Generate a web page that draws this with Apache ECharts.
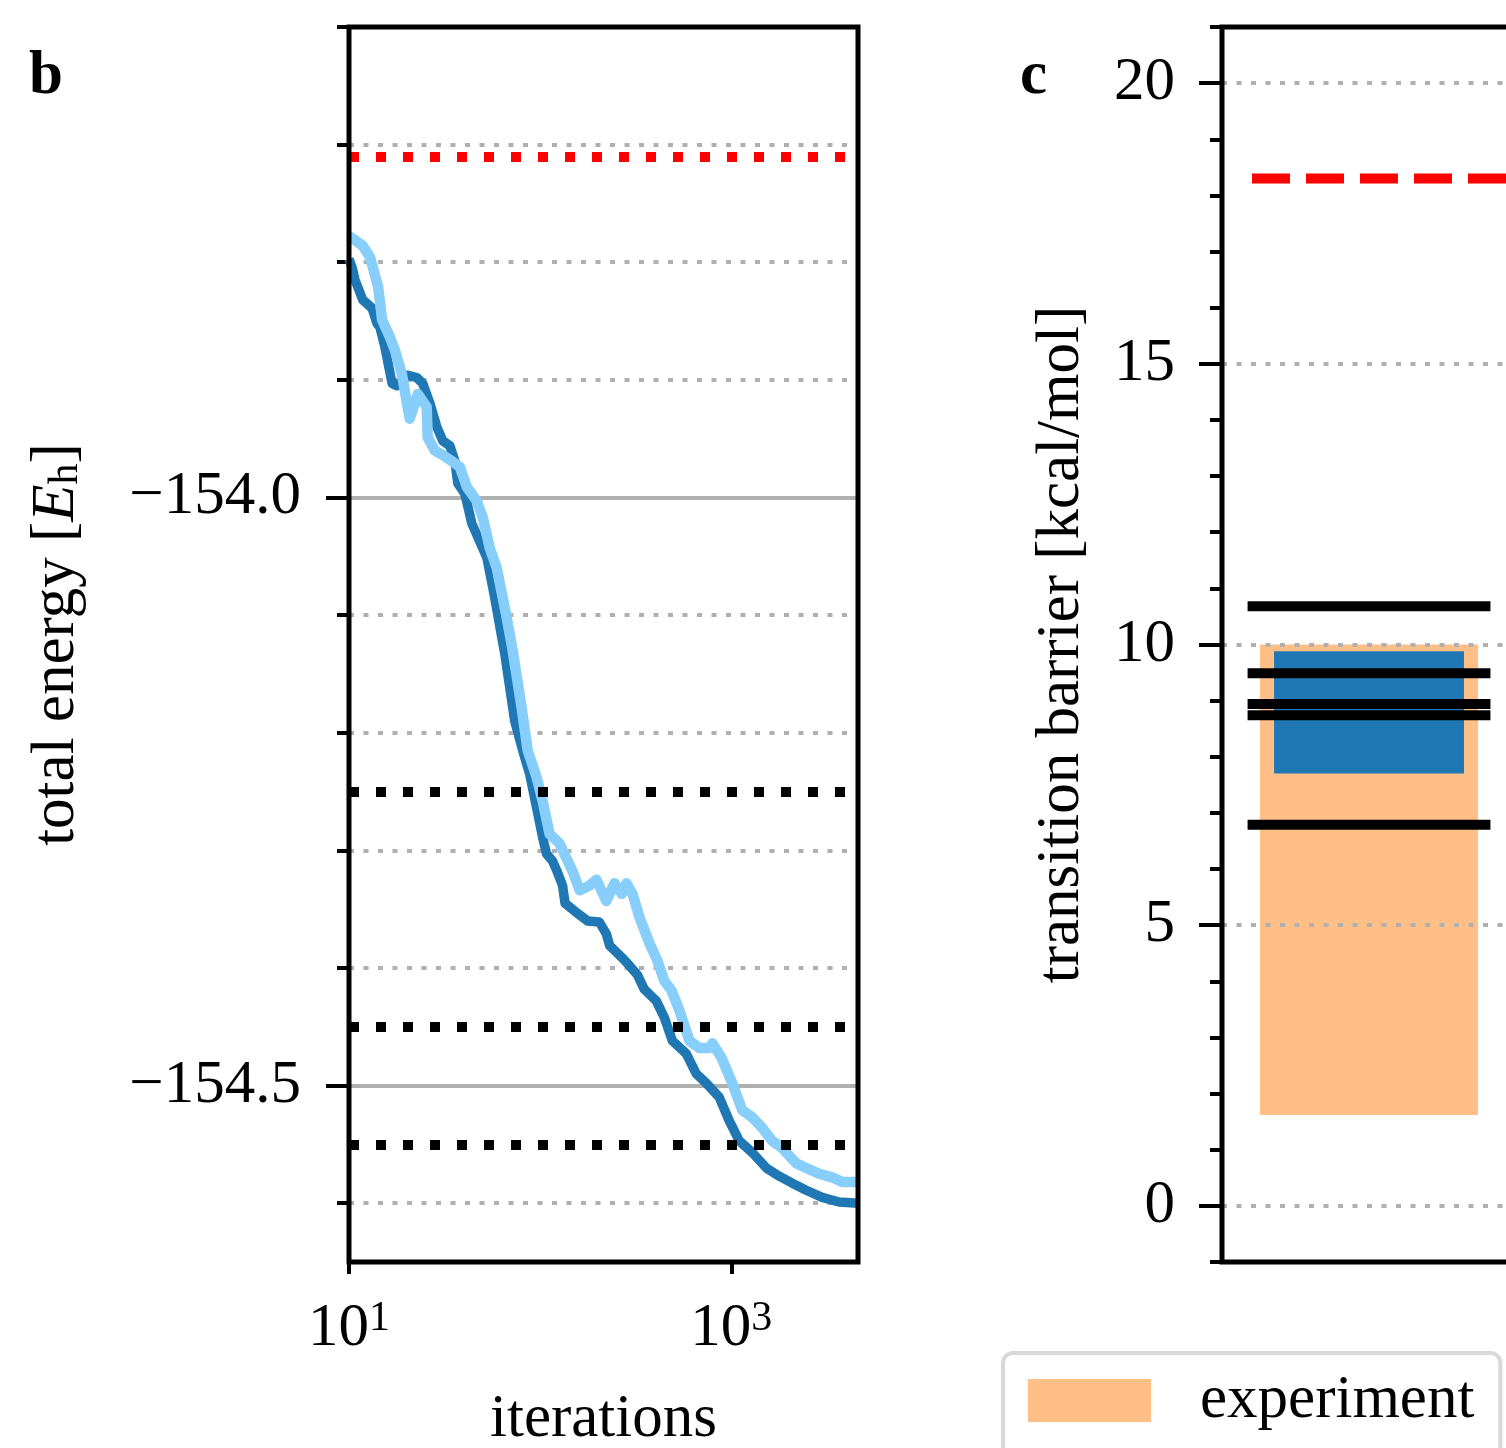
<!DOCTYPE html>
<html>
<head>
<meta charset="utf-8">
<title>Energy convergence and transition barrier</title>
<script src="https://cdn.jsdelivr.net/npm/echarts@6.0.0/dist/echarts.min.js"></script>
<style>
  html, body { margin: 0; padding: 0; background: #fff; }
  #chart { width: 1506px; height: 1448px; }
</style>
</head>
<body>
<div id="chart"></div>
<script>
// panel b: two optimisation runs, [iterations, total energy in E_h]
const runDark = [
  [10, -153.797], [10.4, -153.805], [10.75, -153.815], [11.8, -153.832], [13.2, -153.839],
  [14.0, -153.852], [14.5, -153.855], [15.4, -153.872], [16.8, -153.903], [17.8, -153.905],
  [20.1, -153.896], [22.6, -153.898], [24.3, -153.903], [26.5, -153.920], [28.8, -153.940],
  [31.0, -153.952], [33.7, -153.956], [35.8, -153.969], [37.1, -153.988], [40.4, -153.997],
  [43.9, -154.022], [52.6, -154.051], [57.8, -154.085], [65.3, -154.133], [73.6, -154.190],
  [81.0, -154.215], [88.1, -154.235], [95.9, -154.264], [103, -154.289], [108, -154.303],
  [116, -154.309], [122, -154.317], [131, -154.330], [135, -154.345], [155, -154.353],
  [177, -154.360], [204, -154.361], [222, -154.371], [231, -154.381], [267, -154.391],
  [293, -154.398], [323, -154.406], [350, -154.418], [405, -154.428], [446, -154.442],
  [492, -154.462], [582, -154.473], [656, -154.490], [740, -154.498], [865, -154.510],
  [976, -154.530], [1101, -154.547], [1288, -154.557], [1524, -154.570], [1781, -154.577],
  [2083, -154.583], [2464, -154.589], [2987, -154.595], [3664, -154.599], [4600, -154.600]
];
const runLight = [
  [10, -153.778], [10.5, -153.780], [11.8, -153.786], [12.9, -153.796], [14.2, -153.821],
  [14.9, -153.849], [16.4, -153.864], [17.4, -153.875], [18.9, -153.895], [20.1, -153.920],
  [20.8, -153.933], [22.9, -153.912], [25.5, -153.923], [25.8, -153.949], [28.1, -153.960],
  [31.0, -153.964], [34.5, -153.969], [38.0, -153.974], [41.3, -153.991], [46.6, -154.003],
  [50.1, -154.017], [54.5, -154.043], [59.3, -154.060], [66.8, -154.102], [71.8, -154.130],
  [80.0, -154.179], [86.0, -154.215], [95.9, -154.238], [103, -154.258], [112, -154.286],
  [126, -154.294], [148, -154.318], [161, -154.334], [181, -154.330], [197, -154.325],
  [222, -154.343], [245, -154.328], [267, -154.337], [283, -154.328], [304, -154.337],
  [331, -154.357], [373, -154.379], [411, -154.394], [446, -154.411], [486, -154.419],
  [535, -154.436], [604, -154.462], [681, -154.468], [768, -154.468], [796, -154.464],
  [887, -154.476], [1012, -154.498], [1141, -154.521], [1288, -154.527], [1452, -154.536],
  [1637, -154.547], [1846, -154.553], [2183, -154.566], [2464, -154.570], [2881, -154.575],
  [3366, -154.578], [3800, -154.582], [4600, -154.582]
];
const energyRed = -153.71;
const energyBlack = [-154.25, -154.45, -154.55];
const energyMajorTicks = [-154.5, -154.0];
const energyMinorTicks = [-154.6, -154.5, -154.4, -154.3, -154.2, -154.1, -154.0, -153.9, -153.8, -153.7, -153.6];
const iterationTicks = [10, 1000];

// panel c: transition barriers [kcal/mol]
const barrierRed = 18.3;
const barrierLines = [10.68, 9.49, 8.94, 8.74, 6.79];
const experimentRange = [1.62, 10.0];
const computedRange = [7.70, 9.88];
const barrierMajorTicks = [0, 5, 10, 15, 20];
const barrierMinorTicks = [-1, 0, 1, 2, 3, 4, 5, 6, 7, 8, 9, 10, 11, 12, 13, 14, 15, 16, 17, 18, 19, 20, 21];

const FONT = '"Liberation Serif", "Times New Roman", serif';
const GRID_GRAY = '#b0b0b0';
const tickStyle = { color: '#000', width: 4 };

const chart = echarts.init(document.getElementById('chart'));

// rectangle spanning [lo, hi] around a column
function boxRenderer(halfWidth, color) {
  return function (params, api) {
    const x = api.value(0);
    const p0 = api.coord([x - halfWidth, api.value(2)]);
    const p1 = api.coord([x + halfWidth, api.value(1)]);
    return {
      type: 'rect',
      shape: { x: p0[0], y: p0[1], width: p1[0] - p0[0], height: p1[1] - p0[1] },
      style: { fill: color }
    };
  };
}

// short horizontal bar at a value
function levelRenderer(params, api) {
  const x = api.value(0);
  const p0 = api.coord([x - 0.413, api.value(1)]);
  const p1 = api.coord([x + 0.413, api.value(1)]);
  return {
    type: 'line',
    shape: { x1: p0[0], y1: p0[1], x2: p1[0], y2: p1[1] },
    style: { stroke: '#000', lineWidth: 10 }
  };
}

// dashed line from the first column to the right edge of the plot
function dashedRenderer(params, api) {
  const p0 = api.coord([api.value(0) - 0.398, api.value(1)]);
  const right = params.coordSys.x + params.coordSys.width;
  return {
    type: 'line',
    shape: { x1: p0[0], y1: p0[1], x2: right, y2: p0[1] },
    style: { stroke: '#ff0000', lineWidth: 10, lineDash: [38, 16] }
  };
}

const dotted = (color) => ({ color: color, width: 10, type: [10, 17], cap: 'butt' });

const option = {
  animation: false,
  backgroundColor: '#fff',
  title: [
    { text: 'b', left: 24, top: 42, textStyle: { fontFamily: FONT, fontSize: 61, fontWeight: 'bold', color: '#000' } },
    { text: 'c', left: 1015, top: 42, textStyle: { fontFamily: FONT, fontSize: 61, fontWeight: 'bold', color: '#000' } }
  ],
  legend: {
    left: 1003,
    top: 1353,
    data: [{ name: 'experiment', icon: 'rect' }],
    itemWidth: 123,
    itemHeight: 43,
    padding: [17, 26, 90, 25],
    backgroundColor: '#fff',
    borderColor: '#d9d9d9',
    borderWidth: 4,
    borderRadius: 10,
    selectedMode: false,
    textStyle: { fontFamily: FONT, fontSize: 61, color: '#000', padding: [0, 0, 0, 44] }
  },
  grid: [
    { left: 349, top: 27, width: 509, height: 1235, show: true, borderColor: '#000', borderWidth: 5, z: 10,
      backgroundColor: 'transparent', containLabel: false, outerBoundsMode: 'none' },
    { left: 1222, top: 27, width: 900, height: 1235, show: true, borderColor: '#000', borderWidth: 5, z: 10,
      backgroundColor: 'transparent', containLabel: false, outerBoundsMode: 'none' }
  ],
  xAxis: [
    {
      type: 'log', logBase: 10, gridIndex: 0, min: 10, max: 4600,
      axisLine: { show: false, onZero: false },
      axisTick: { customValues: iterationTicks, length: 12, lineStyle: tickStyle },
      minorTick: { show: false },
      splitLine: { show: false },
      axisLabel: {
        customValues: iterationTicks, margin: 36,
        formatter: (v) => '{b|10}{s|' + Math.round(Math.log10(v)) + '}',
        rich: {
          b: { fontFamily: FONT, fontSize: 61, color: '#000' },
          s: { fontFamily: FONT, fontSize: 42, color: '#000', verticalAlign: 'top', lineHeight: 40 }
        }
      },
      name: 'iterations', nameLocation: 'middle', nameGap: 127,
      nameTextStyle: { fontFamily: FONT, fontSize: 61, color: '#000' }
    },
    { type: 'value', gridIndex: 1, min: -0.5, max: 2.561, show: false, axisLine: { onZero: false } }
  ],
  yAxis: [
    {
      type: 'value', gridIndex: 0, position: 'left', min: -154.65, max: -153.6,
      axisLine: { show: false, onZero: false },
      axisTick: { customValues: energyMinorTicks, length: 12, lineStyle: tickStyle },
      axisLabel: { show: false },
      splitLine: { show: true, lineStyle: { color: GRID_GRAY, width: 4, type: [5, 9.5] } }
    },
    {
      type: 'value', gridIndex: 0, position: 'left', min: -154.65, max: -153.6,
      axisLine: { show: false, onZero: false },
      axisTick: { customValues: energyMajorTicks, length: 23, lineStyle: tickStyle },
      axisLabel: {
        customValues: energyMajorTicks, margin: 48,
        fontFamily: FONT, fontSize: 61, color: '#000',
        formatter: (v) => '\u2212' + Math.abs(v).toFixed(1)
      },
      splitLine: { show: true, lineStyle: { color: GRID_GRAY, width: 4, type: 'solid' } },
      name: '{n|total energy [}{e|E}{h|h}{n|]}',
      nameLocation: 'middle', nameGap: 262,
      nameTextStyle: {
        fontFamily: FONT, fontSize: 61, color: '#000',
        rich: {
          n: { fontFamily: FONT, fontSize: 61, color: '#000' },
          e: { fontFamily: FONT, fontSize: 61, color: '#000', fontStyle: 'italic' },
          h: { fontFamily: FONT, fontSize: 42, color: '#000', verticalAlign: 'bottom', lineHeight: 30 }
        }
      }
    },
    {
      type: 'value', gridIndex: 1, position: 'left', min: -1, max: 21,
      axisLine: { show: false, onZero: false },
      axisTick: { customValues: barrierMinorTicks, length: 12, lineStyle: tickStyle },
      axisLabel: { show: false },
      splitLine: { show: false }
    },
    {
      type: 'value', gridIndex: 1, position: 'left', min: -1, max: 21, z: 5,
      axisLine: { show: false, onZero: false },
      axisTick: { customValues: barrierMajorTicks, length: 23, lineStyle: tickStyle },
      axisLabel: {
        customValues: barrierMajorTicks, margin: 47,
        fontFamily: FONT, fontSize: 61, color: '#000'
      },
      splitLine: { show: true, lineStyle: { color: GRID_GRAY, width: 4, type: [5, 9.5] } },
      name: 'transition barrier [kcal/mol]',
      nameLocation: 'middle', nameGap: 130,
      nameTextStyle: { fontFamily: FONT, fontSize: 61, color: '#000' }
    }
  ],
  series: [
    {
      name: 'run 1', type: 'line', xAxisIndex: 0, yAxisIndex: 0, data: runDark,
      showSymbol: false, z: 3,
      lineStyle: { color: '#1f77b4', width: 9.5, join: 'round', cap: 'butt' }
    },
    {
      name: 'run 2', type: 'line', xAxisIndex: 0, yAxisIndex: 0, data: runLight,
      showSymbol: false, z: 4,
      lineStyle: { color: '#87cefa', width: 10.5, join: 'round', cap: 'butt' }
    },
    {
      name: 'reference energies', type: 'line', xAxisIndex: 0, yAxisIndex: 0, data: [], z: 5,
      markLine: {
        silent: true, symbol: ['none', 'none'], label: { show: false }, animation: false,
        data: [{ yAxis: energyRed, lineStyle: dotted('#ff0000') }]
          .concat(energyBlack.map((v) => ({ yAxis: v, lineStyle: dotted('#000') })))
      }
    },
    {
      name: 'experiment', type: 'custom', xAxisIndex: 1, yAxisIndex: 2, z: 2,
      itemStyle: { color: '#ffbf86' },
      data: [[0, experimentRange[0], experimentRange[1]]],
      renderItem: boxRenderer(0.371, '#ffbf86')
    },
    {
      name: 'computed', type: 'custom', xAxisIndex: 1, yAxisIndex: 2, z: 3,
      itemStyle: { color: '#1f77b4' },
      data: [[0, computedRange[0], computedRange[1]]],
      renderItem: boxRenderer(0.323, '#1f77b4')
    },
    {
      name: 'methods', type: 'custom', xAxisIndex: 1, yAxisIndex: 2, z: 4,
      itemStyle: { color: '#000' },
      data: barrierLines.map((v) => [0, v]),
      renderItem: levelRenderer
    },
    {
      name: 'reference barrier', type: 'custom', xAxisIndex: 1, yAxisIndex: 2, z: 4,
      itemStyle: { color: '#ff0000' },
      data: [[0, barrierRed]],
      renderItem: dashedRenderer
    }
  ]
};

chart.setOption(option);
</script>
</body>
</html>
